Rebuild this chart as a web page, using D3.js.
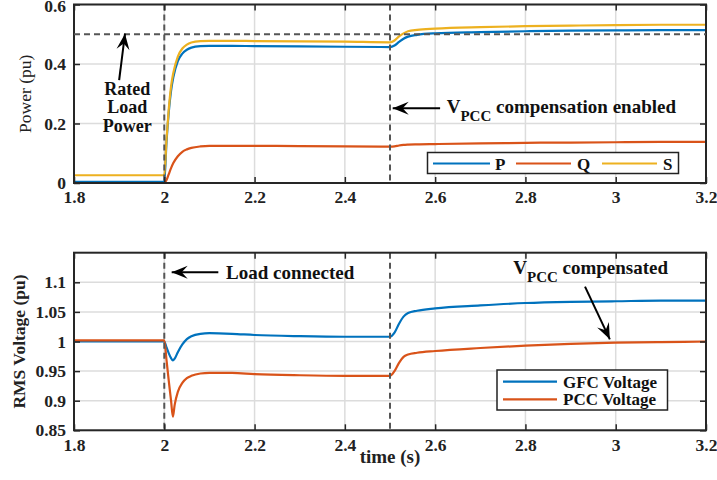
<!DOCTYPE html>
<html><head><meta charset="utf-8">
<script src="https://cdn.jsdelivr.net/npm/d3@7"></script>
<style>
html,body{margin:0;padding:0;background:#fff;}
text{font-family:"Liberation Serif","Times New Roman",serif;}
</style></head>
<body><svg id="c" width="717" height="480"></svg>
<script>
// ---------- DATA ----------
const xTicks = [1.8, 2, 2.2, 2.4, 2.6, 2.8, 3, 3.2];
const powerTicks = [0, 0.2, 0.4, 0.6];
const voltTicks = [0.85, 0.9, 0.95, 1, 1.05, 1.1];
const voltTickLabels = ["0.85", "0.9", "0.95", "1", "1.05", "1.1"];

const timeTop = [1.8, 1.999, 2.0, 2.005, 2.01, 2.015, 2.02, 2.03, 2.04, 2.05, 2.06, 2.08, 2.1, 2.15, 2.2, 2.3, 2.4, 2.5, 2.51, 2.52, 2.53, 2.54, 2.56, 2.6, 2.7, 2.8, 2.9, 3.0, 3.1, 3.2];
const powerP = [0.004, 0.004, 0.004, 0.14, 0.24, 0.31, 0.355, 0.41, 0.435, 0.448, 0.455, 0.46, 0.461, 0.461, 0.46, 0.459, 0.458, 0.457, 0.462, 0.474, 0.485, 0.492, 0.498, 0.503, 0.507, 0.510, 0.512, 0.513, 0.514, 0.514];
const powerQ = [0, 0, 0, 0.01, 0.03, 0.05, 0.067, 0.09, 0.105, 0.113, 0.118, 0.123, 0.125, 0.125, 0.125, 0.124, 0.123, 0.122, 0.123, 0.126, 0.128, 0.129, 0.130, 0.131, 0.133, 0.135, 0.136, 0.137, 0.138, 0.138];
const powerS = [0.026, 0.026, 0.026, 0.15, 0.25, 0.325, 0.37, 0.425, 0.452, 0.465, 0.472, 0.477, 0.478, 0.478, 0.477, 0.476, 0.475, 0.473, 0.479, 0.493, 0.503, 0.510, 0.515, 0.519, 0.524, 0.527, 0.529, 0.531, 0.532, 0.532];
const ratedPower = 0.5;

const timeBottom = [1.8, 2.0, 2.005, 2.01, 2.015, 2.019, 2.023, 2.03, 2.04, 2.05, 2.06, 2.08, 2.1, 2.15, 2.2, 2.3, 2.4, 2.5, 2.51, 2.52, 2.53, 2.54, 2.56, 2.6, 2.7, 2.8, 2.9, 3.0, 3.1, 3.2];
const gfcVoltage = [1.0, 1.0, 0.99, 0.98, 0.972, 0.968, 0.971, 0.982, 0.995, 1.004, 1.009, 1.013, 1.014, 1.013, 1.011, 1.009, 1.008, 1.008, 1.015, 1.030, 1.042, 1.048, 1.052, 1.056, 1.061, 1.065, 1.067, 1.068, 1.069, 1.069];
const pccVoltage = [1.002, 1.002, 0.968, 0.933, 0.9, 0.873, 0.893, 0.915, 0.93, 0.938, 0.942, 0.946, 0.947, 0.947, 0.945, 0.943, 0.942, 0.942, 0.950, 0.964, 0.974, 0.978, 0.981, 0.984, 0.989, 0.993, 0.996, 0.998, 0.999, 1.0];

const eventTimes = [2.0, 2.5];
const topSeries = [
  {name: "P", values: powerP, color: "#0072BD"},
  {name: "Q", values: powerQ, color: "#D95319"},
  {name: "S", values: powerS, color: "#EDB120"}
];
const bottomSeries = [
  {name: "GFC Voltage", values: gfcVoltage, color: "#0072BD"},
  {name: "PCC Voltage", values: pccVoltage, color: "#D95319"}
];

// ---------- LAYOUT ----------
const svg = d3.select("#c");
const L = 74, R = 706;
const topBox = {t: 4.5, b: 183};
const botBox = {t: 252.7, b: 430.3};
const x = d3.scaleLinear().domain([1.8, 3.2]).range([L, R]);
const yTop = d3.scaleLinear().domain([0, 0.6]).range([topBox.b, topBox.t]);
const yBot = d3.scaleLinear().domain([0.85, 1.15]).range([botBox.b, botBox.t]);

const gridColor = "#dcdcdc", axisColor = "#262626", dashColor = "#555";
const TICK_FS = 17.5, ANN_FS = 19, LEG_FS = 17;

function panel(y, box, yticks, ylabels, ylabel, ylabelBold, ylabelX, series, times) {
  const g = svg.append("g");
  g.selectAll(".gx").data(xTicks).join("line")
    .attr("x1", d => x(d)).attr("x2", d => x(d))
    .attr("y1", box.t).attr("y2", box.b)
    .attr("stroke", gridColor).attr("stroke-width", 1.5);
  g.selectAll(".gy").data(yticks).join("line")
    .attr("x1", L).attr("x2", R)
    .attr("y1", d => y(d)).attr("y2", d => y(d))
    .attr("stroke", gridColor).attr("stroke-width", 1.5);
  const line = d3.line().x((d, i) => x(times[i])).y(d => y(d)).curve(d3.curveMonotoneX);
  series.forEach(s => {
    g.append("path").attr("d", line(s.values)).attr("fill", "none")
      .attr("stroke", s.color).attr("stroke-width", 2.2);
  });
  g.selectAll(".ev").data(eventTimes).join("line")
    .attr("x1", d => x(d)).attr("x2", d => x(d))
    .attr("y1", box.t).attr("y2", box.b)
    .attr("stroke", dashColor).attr("stroke-width", 2)
    .attr("stroke-dasharray", "6,4");
  const ax = g.append("g").attr("transform", `translate(0,${box.b})`)
    .call(d3.axisBottom(x).tickValues(xTicks).tickSize(-6).tickPadding(8).tickFormat(d3.format("~g")));
  const axT = g.append("g").attr("transform", `translate(0,${box.t})`)
    .call(d3.axisTop(x).tickValues(xTicks).tickSize(-6).tickFormat(""));
  const ay = g.append("g").attr("transform", `translate(${L},0)`)
    .call(d3.axisLeft(y).tickValues(yticks).tickSize(-6).tickPadding(8).tickFormat((d, i) => ylabels[i]));
  const ayR = g.append("g").attr("transform", `translate(${R},0)`)
    .call(d3.axisRight(y).tickValues(yticks).tickSize(-6).tickFormat(""));
  [ax, axT, ay, ayR].forEach(a => {
    a.select(".domain").remove();
    a.selectAll(".tick line").attr("stroke", axisColor).attr("stroke-width", 1.5);
    a.selectAll(".tick text").attr("font-family", "Liberation Serif").attr("font-weight", "bold")
      .attr("font-size", TICK_FS).attr("fill", "#222");
  });
  g.append("rect").attr("x", L).attr("y", box.t).attr("width", R - L).attr("height", box.b - box.t)
    .attr("fill", "none").attr("stroke", axisColor).attr("stroke-width", 2);
  g.append("text").attr("transform", `translate(${ylabelX},${(box.t + box.b) / 2}) rotate(-90)`)
    .attr("text-anchor", "middle").attr("font-size", 17.5)
    .attr("font-weight", ylabelBold ? "bold" : "normal").attr("fill", "#222").text(ylabel);
  return {g, ay};
}

const topPanel = panel(yTop, topBox, powerTicks, powerTicks.map(d3.format("~g")), "Power (pu)", false, 31, topSeries, timeTop);
// keep the topmost label inside the picture
topPanel.ay.selectAll(".tick text").filter(d => d === 0.6).attr("dy", "0.42em");
topPanel.g.append("line").attr("x1", x(1.8)).attr("x2", x(3.2))
  .attr("y1", yTop(ratedPower)).attr("y2", yTop(ratedPower))
  .attr("stroke", dashColor).attr("stroke-width", 1.8).attr("stroke-dasharray", "6,4");

panel(yBot, botBox, voltTicks, voltTickLabels, "RMS Voltage (pu)", true, 25, bottomSeries, timeBottom);

svg.append("text").attr("x", (L + R) / 2).attr("y", 463).attr("text-anchor", "middle")
  .attr("font-size", 19).attr("font-weight", "bold").attr("fill", "#222").text("time (s)");

// ---------- LEGENDS ----------
function legendTop() {
  const g = svg.append("g");
  g.append("rect").attr("x", 427.5).attr("y", 152.5).attr("width", 251).attr("height", 21)
    .attr("fill", "#fff").attr("stroke", "#222").attr("stroke-width", 1.5);
  const items = [{x0: 433, x1: 490, tx: 495}, {x0: 516, x1: 571, tx: 577}, {x0: 602, x1: 657, tx: 663}];
  topSeries.forEach((s, i) => {
    g.append("line").attr("x1", items[i].x0).attr("x2", items[i].x1).attr("y1", 163.5).attr("y2", 163.5)
      .attr("stroke", s.color).attr("stroke-width", 2.2);
    g.append("text").attr("x", items[i].tx).attr("y", 169.5).attr("font-size", LEG_FS).attr("font-weight", "bold")
      .attr("fill", "#111").text(s.name);
  });
}
legendTop();
function legendBot() {
  const g = svg.append("g");
  g.append("rect").attr("x", 497).attr("y", 370).attr("width", 170.5).attr("height", 40)
    .attr("fill", "#fff").attr("stroke", "#222").attr("stroke-width", 1.5);
  bottomSeries.forEach((s, i) => {
    const yy = 381.7 + i * 17.6;
    g.append("line").attr("x1", 503).attr("x2", 557).attr("y1", yy).attr("y2", yy)
      .attr("stroke", s.color).attr("stroke-width", 2.2);
    g.append("text").attr("x", 563).attr("y", yy + 6).attr("font-size", LEG_FS).attr("font-weight", "bold")
      .attr("fill", "#111").text(s.name);
  });
}
legendBot();

// ---------- ANNOTATIONS ----------
function arrow(x1, y1, x2, y2) {
  svg.append("line").attr("x1", x1).attr("y1", y1).attr("x2", x2).attr("y2", y2)
    .attr("stroke", "#000").attr("stroke-width", 2);
  const a = Math.atan2(y2 - y1, x2 - x1);
  const len = 16, w = 6.5, notch = 10;
  const p = (d, o) => [x2 - d * Math.cos(a) - o * Math.sin(a), y2 - d * Math.sin(a) + o * Math.cos(a)];
  const pts = [[x2, y2], p(len, w), p(notch, 0), p(len, -w)];
  svg.append("path").attr("d", "M" + pts.map(q => q.join(",")).join("L") + "Z").attr("fill", "#000");
}
arrow(x(1.90), yTop(0.346), x(1.913), yTop(0.502));
["Rated", "Load", "Power"].forEach((w, i) => {
  svg.append("text").attr("x", x(1.918)).attr("y", yTop([0.296, 0.235, 0.172][i]))
    .attr("text-anchor", "middle").attr("font-size", 18).attr("font-weight", "bold").attr("fill", "#111").text(w);
});
arrow(x(2.611), yTop(0.251), x(2.506), yTop(0.251));
function vText(t0, yv, yscale, rest) {
  const tx = svg.append("text").attr("x", x(t0)).attr("y", yscale(yv)).attr("font-size", ANN_FS)
    .attr("font-weight", "bold").attr("fill", "#111");
  tx.append("tspan").text("V");
  tx.append("tspan").attr("dy", 8).attr("font-size", 15).text("PCC");
  tx.append("tspan").attr("dy", -8).text(" " + rest);
}
vText(2.6256, 0.235, yTop, "compensation enabled");
arrow(x(2.1197), yBot(1.117), x(2.0164), yBot(1.117));
svg.append("text").attr("x", x(2.1367)).attr("y", yBot(1.105)).attr("font-size", ANN_FS)
  .attr("font-weight", "bold").attr("fill", "#111").text("Load connected");
vText(2.773, 1.1135, yBot, "compensated");
arrow(x(2.932), yBot(1.0926), x(2.987), yBot(1.0037));
</script></body></html>
